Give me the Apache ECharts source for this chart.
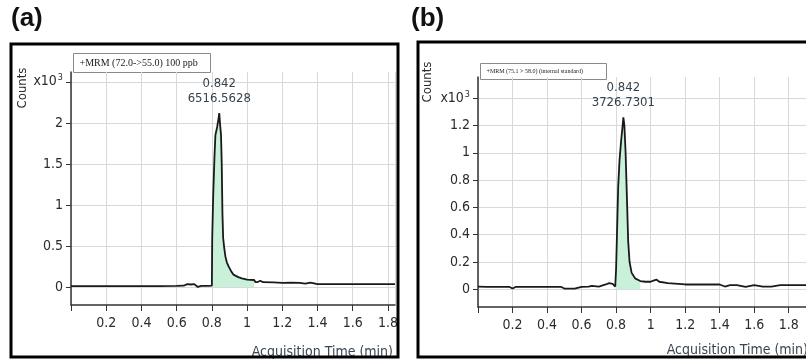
<!DOCTYPE html>
<html>
<head>
<meta charset="utf-8">
<script src="https://cdn.jsdelivr.net/npm/echarts@6/dist/echarts.min.js"></script>
<style>
  html, body { margin: 0; background: #fff; }
  #chart { width: 806px; height: 359px; }
</style>
</head>
<body>
<div id="chart"></div>
<script>
// Panel (a): +MRM (72.0->55.0) 100 ppb, counts in x10^3
const TIME_A = [0, 0.1, 0.2, 0.3, 0.4, 0.5, 0.6, 0.64, 0.66, 0.68, 0.7, 0.72, 0.74, 0.78, 0.8,
  0.802, 0.808, 0.815, 0.82, 0.83, 0.838, 0.842, 0.846, 0.852, 0.856, 0.86, 0.864, 0.87, 0.877,
  0.885, 0.895, 0.91, 0.923, 0.95, 0.97, 1.0, 1.04, 1.047, 1.06, 1.075, 1.09, 1.15, 1.2, 1.25,
  1.3, 1.33, 1.36, 1.4, 1.5, 1.6, 1.7, 1.84];
const COUNTS_A = [0.01, 0.01, 0.01, 0.01, 0.01, 0.01, 0.012, 0.015, 0.035, 0.03, 0.035, 0.0,
  0.012, 0.012, 0.015, 0.6, 1.15, 1.6, 1.85, 1.95, 2.05, 2.12, 2.0, 1.85, 1.5, 0.9, 0.6, 0.48,
  0.37, 0.3, 0.25, 0.19, 0.15, 0.12, 0.105, 0.09, 0.085, 0.06, 0.06, 0.075, 0.058, 0.055, 0.05,
  0.052, 0.05, 0.04, 0.052, 0.035, 0.035, 0.035, 0.035, 0.035];
const FILL_A = [0.80, 1.04];
const YTICKS_A = [0, 0.5, 1, 1.5, 2, 2.5];
const PEAK_TEXT_A = ['0.842', '6516.5628'];
const LEGEND_A = '+MRM (72.0->55.0) 100 ppb';

// Panel (b): +MRM (75.1 > 58.0) internal standard
const TIME_B = [0, 0.05, 0.18, 0.2, 0.22, 0.3, 0.4, 0.48, 0.5, 0.56, 0.6, 0.64, 0.66, 0.7, 0.74,
  0.76, 0.78, 0.795, 0.8, 0.805, 0.812, 0.82, 0.83, 0.838, 0.842, 0.848, 0.855, 0.862, 0.87,
  0.878, 0.89, 0.91, 0.94, 0.97, 1.0, 1.02, 1.035, 1.05, 1.1, 1.2, 1.3, 1.4, 1.43, 1.46, 1.5,
  1.55, 1.6, 1.65, 1.7, 1.75, 1.9];
const COUNTS_B = [0.02, 0.018, 0.018, 0.005, 0.018, 0.018, 0.018, 0.018, 0.005, 0.005, 0.018,
  0.02, 0.025, 0.02, 0.035, 0.045, 0.04, 0.02, 0.15, 0.4, 0.75, 0.95, 1.1, 1.2, 1.26, 1.2, 1.0,
  0.7, 0.35, 0.2, 0.12, 0.08, 0.06, 0.055, 0.055, 0.065, 0.07, 0.055, 0.045, 0.035, 0.035,
  0.035, 0.02, 0.03, 0.03, 0.018, 0.03, 0.02, 0.02, 0.03, 0.03];
const FILL_B = [0.795, 0.95];
const YTICKS_B = [0, 0.2, 0.4, 0.6, 0.8, 1, 1.2, 1.4];
const PEAK_TEXT_B = ['0.842', '3726.7301'];
const LEGEND_B = '+MRM (75.1 > 58.0) (internal standard)';

const XTICK_STEP = 0.2;

const NARROW = '"Liberation Sans Narrow", "DejaVu Sans Condensed", Arial, sans-serif';
const TEXT = '#2b2b2b';
const GRIDLINE = '#d9d9d9';

const zip = (xs, ys) => xs.map((x, i) => [x, ys[i]]);
const inRange = (pts, r) => pts.filter(p => p[0] >= r[0] && p[0] <= r[1]);
const peakOf = pts => pts.reduce((a, b) => (b[1] > a[1] ? b : a));

const ptsA = zip(TIME_A, COUNTS_A);
const ptsB = zip(TIME_B, COUNTS_B);

function xAxisFor(idx, max) {
  return {
    type: 'value', gridIndex: idx, min: 0, max: max, interval: XTICK_STEP,
    axisLine: { onZero: false, lineStyle: { color: '#333', width: 1.5 } },
    axisTick: { show: true, length: 6, lineStyle: { color: '#333' } },
    axisLabel: {
      color: TEXT, fontFamily: NARROW, fontSize: 14, margin: 11,
      formatter: v => (v === 0 ? '' : String(+v.toFixed(1)))
    },
    splitLine: { show: true, lineStyle: { color: GRIDLINE } }
  };
}

function yAxisFor(idx, min, max, ticks) {
  const top = ticks[ticks.length - 1];
  return {
    type: 'value', gridIndex: idx, min: min, max: max,
    axisLine: { show: true, lineStyle: { color: '#333', width: 1.5 } },
    axisTick: { show: true, length: 5, customValues: ticks, lineStyle: { color: '#333' } },
    axisLabel: {
      customValues: ticks, color: TEXT, fontFamily: NARROW, fontSize: 14, margin: 8,
      formatter: v => (v === top ? '{u|x10}{s|3}' : String(v)),
      rich: {
        u: { fontFamily: NARROW, fontSize: 14, color: TEXT },
        s: { fontFamily: NARROW, fontSize: 9, color: TEXT, padding: [0, 0, 8, 1] }
      }
    },
    splitLine: { show: true, lineStyle: { color: GRIDLINE } }
  };
}

function seriesFor(idx, pts, fill, peakText) {
  const pk = peakOf(pts);
  return [
    {
      type: 'line', xAxisIndex: idx, yAxisIndex: idx, data: inRange(pts, fill),
      symbol: 'none', silent: true, z: 1,
      lineStyle: { width: 0 }, areaStyle: { color: '#c9f0d9', opacity: 1 }
    },
    {
      type: 'line', xAxisIndex: idx, yAxisIndex: idx, data: pts,
      symbol: 'none', z: 3,
      lineStyle: { color: '#1a1a1a', width: 1.8 },
      markPoint: {
        symbol: 'circle', symbolSize: 0,
        data: [{ coord: pk }],
        label: {
          show: true, position: 'top', distance: 7,
          formatter: peakText.join('\n'),
          color: '#34424e', fontFamily: NARROW, fontSize: 13, lineHeight: 15
        }
      }
    }
  ];
}

function legendBox(x, y, w, h, text, size) {
  return {
    type: 'group', left: x, top: y, children: [
      { type: 'rect', shape: { x: 0, y: 0, width: w, height: h },
        style: { fill: '#fff', stroke: '#8a8a8a', lineWidth: 1 } },
      { type: 'text', x: 6, y: h / 2,
        style: { text: text, fill: '#222', font: size + 'px "Liberation Serif", serif',
          verticalAlign: 'middle' } }
    ]
  };
}

const chart = echarts.init(document.getElementById('chart'), null, { renderer: 'canvas' });

chart.setOption({
  animation: false,
  backgroundColor: '#fff',
  grid: [
    { left: 71, top: 72, width: 324, height: 233 },
    { left: 478, top: 77, width: 345, height: 230 }
  ],
  xAxis: [xAxisFor(0, 1.84), xAxisFor(1, 1.9)],
  yAxis: [yAxisFor(0, -0.22, 2.62, YTICKS_A), yAxisFor(1, -0.13, 1.555, YTICKS_B)],
  series: [...seriesFor(0, ptsA, FILL_A, PEAK_TEXT_A), ...seriesFor(1, ptsB, FILL_B, PEAK_TEXT_B)],
  graphic: [
    { type: 'text', left: 11, top: 6, style: { text: '(a)', font: 'bold 26px "Liberation Sans", Arial, sans-serif', fill: '#111' } },
    { type: 'text', left: 411, top: 6, style: { text: '(b)', font: 'bold 26px "Liberation Sans", Arial, sans-serif', fill: '#111' } },
    { type: 'rect', shape: { x: 11, y: 44, width: 387, height: 313 }, style: { fill: 'none', stroke: '#000', lineWidth: 3 }, z: 10 },
    { type: 'rect', shape: { x: 418, y: 42, width: 420, height: 315 }, style: { fill: 'none', stroke: '#000', lineWidth: 3 }, z: 10 },
    legendBox(73, 53, 137, 19, LEGEND_A, 10),
    legendBox(480, 63, 126, 16, LEGEND_B, 6),
    { type: 'text', x: 23, y: 88, rotation: Math.PI / 2,
      style: { text: 'Counts', font: '13px ' + NARROW, fill: TEXT, align: 'center', verticalAlign: 'middle' } },
    { type: 'text', x: 428, y: 82, rotation: Math.PI / 2,
      style: { text: 'Counts', font: '13px ' + NARROW, fill: TEXT, align: 'center', verticalAlign: 'middle' } },
    { type: 'text', x: 393, y: 352,
      style: { text: 'Acquisition Time (min)', font: '14px ' + NARROW, fill: '#3a4654', align: 'right', verticalAlign: 'middle' } },
    { type: 'text', x: 808, y: 350,
      style: { text: 'Acquisition Time (min)', font: '14px ' + NARROW, fill: '#3a4654', align: 'right', verticalAlign: 'middle' } }
  ]
});
</script>
</body>
</html>
